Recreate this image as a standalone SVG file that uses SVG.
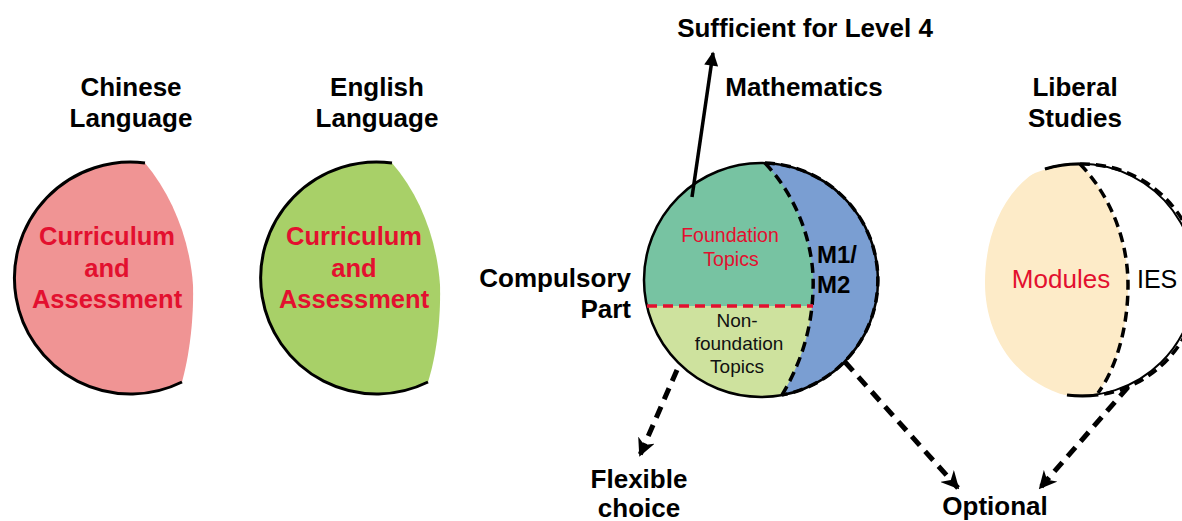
<svg xmlns="http://www.w3.org/2000/svg" width="1182" height="521" viewBox="0 0 1182 521">
<style>
.h{font-family:"Liberation Sans",Arial,sans-serif;font-weight:bold;font-size:26px;fill:#000;text-anchor:middle}
.red{font-family:"Liberation Sans",Arial,sans-serif;font-weight:bold;font-size:25.5px;fill:#E3102F;text-anchor:middle}
.sm{font-family:"Liberation Sans",Arial,sans-serif;font-size:19px;text-anchor:middle;fill:#111}
.fr{font-family:"Liberation Sans",Arial,sans-serif;font-size:19.5px;text-anchor:middle;fill:#E3102F}
.arc{fill:none;stroke:#000;stroke-width:3}
.thin{fill:none;stroke:#000;stroke-width:2}
.dash{fill:none;stroke:#000;stroke-width:3.5;stroke-dasharray:10 6}
.darr{fill:none;stroke:#000;stroke-width:5;stroke-dasharray:12 8}
</style>
<defs>
<marker id="arr" viewBox="0 0 10 10" refX="9" refY="5" markerWidth="16" markerHeight="14" markerUnits="userSpaceOnUse" orient="auto"><path d="M0,0 L10,5 L0,10 z" fill="#000"/></marker>
<marker id="darrh" viewBox="0 0 10 10" refX="9" refY="5" markerWidth="18" markerHeight="18" markerUnits="userSpaceOnUse" orient="auto"><path d="M0,0 L10,5 L0,10 L3,5 z" fill="#000"/></marker>
<clipPath id="cm"><circle cx="761" cy="280" r="117"/></clipPath>
<clipPath id="cl"><circle cx="1080" cy="280" r="116"/></clipPath>
</defs>

<g id="chinese">
<path d="M145,163 A116,116 0 1,0 182,382 C188,360 194,325 193,285 C190,240 172,195 145,163 Z" fill="#F09494"/>
<path class="arc" d="M145,163 A116,116 0 1,0 182,382"/>
<text class="h" x="131" y="96">Chinese</text>
<text class="h" x="131" y="127">Language</text>
<text class="red" x="107" y="245">Curriculum</text>
<text class="red" x="107" y="277">and</text>
<text class="red" x="107" y="308">Assessment</text>
</g>

<g id="english">
<path d="M392,163 A116,116 0 1,0 428,382 C435,360 441,325 440,285 C437,240 420,195 392,163 Z" fill="#A8D068"/>
<path class="arc" d="M392,163 A116,116 0 1,0 428,382"/>
<text class="h" x="377" y="96">English</text>
<text class="h" x="377" y="127">Language</text>
<text class="red" x="354" y="245">Curriculum</text>
<text class="red" x="354" y="277">and</text>
<text class="red" x="354" y="308">Assessment</text>
</g>

<g id="mathematics">
<g clip-path="url(#cm)">
<rect x="640" y="160" width="250" height="146" fill="#77C3A2"/>
<rect x="640" y="306" width="250" height="100" fill="#CEE29E"/>
<path d="M765,163 C800,200 815,250 813,290 C812,330 800,365 782,395 L900,420 L900,140 Z" fill="#7A9ED2"/>
</g>
<circle cx="761" cy="280" r="117" class="thin" style="stroke-width:2.5"/>
<path class="dash" d="M765,163 A117,117 0 0,1 782,395"/>
<path class="dash" d="M765,163 C800,200 815,250 813,290 C812,330 800,365 782,395"/>
<line x1="647" y1="306" x2="813" y2="306" stroke="#E3102F" stroke-width="3.5" stroke-dasharray="10 6"/>
<text class="h" x="804" y="96">Mathematics</text>
<text class="fr" x="730" y="242">Foundation</text>
<text class="fr" x="731" y="266">Topics</text>
<text class="h" style="text-anchor:start;font-size:24px" x="817" y="263">M1/</text>
<text class="h" style="text-anchor:start;font-size:24px" x="817" y="293">M2</text>
<text class="sm" x="737" y="327">Non-</text>
<text class="sm" x="739" y="350">foundation</text>
<text class="sm" x="737" y="373">Topics</text>
</g>

<g id="liberal">
<g clip-path="url(#cl)">
<path d="M1045,166 C1000,190 985,240 985,283 C985,330 1010,380 1067,396 L1098,400 L1098,393 C1115,370 1128,330 1128,285 C1128,240 1110,195 1080,163 L1080,150 L1045,150 Z" fill="#FDEBC8"/>
</g>
<path class="thin" d="M1045,169 A116,116 0 1,1 1067,395"/>
<path class="dash" d="M1080,164 A116,116 0 0,1 1098,395"/>
<path class="arc" d="M1045,169 A116,116 0 0,1 1080,164"/>
<path class="arc" d="M1067,395 A116,116 0 0,0 1098,395"/>
<path class="dash" d="M1080,164 C1110,195 1128,240 1128,285 C1128,330 1115,370 1098,393"/>
<text class="h" x="1075" y="96">Liberal</text>
<text class="h" x="1075" y="127">Studies</text>
<text x="1061" y="288" style="font-family:'Liberation Sans',Arial,sans-serif;font-size:26px;fill:#E3102F;text-anchor:middle">Modules</text>
<text x="1137" y="288" style="font-family:'Liberation Sans',Arial,sans-serif;font-size:25px;fill:#000">IES</text>
</g>

<g id="labels">
<text class="h" x="805" y="37">Sufficient for Level 4</text>
<text class="h" style="text-anchor:end" x="631" y="287">Compulsory</text>
<text class="h" style="text-anchor:end" x="631" y="318">Part</text>
<text class="h" x="639" y="488">Flexible</text>
<text class="h" x="639" y="517">choice</text>
<text class="h" x="995" y="515">Optional</text>
</g>

<g id="connectors">
<line x1="692" y1="197" x2="713" y2="53" stroke="#000" stroke-width="3.5" marker-end="url(#arr)"/>
<line class="darr" x1="677" y1="370" x2="640" y2="455" marker-end="url(#darrh)"/>
<line class="darr" x1="845" y1="362" x2="958" y2="488" marker-end="url(#darrh)"/>
<line class="darr" x1="1128" y1="387" x2="1040" y2="488" marker-end="url(#darrh)"/>
</g>
</svg>
